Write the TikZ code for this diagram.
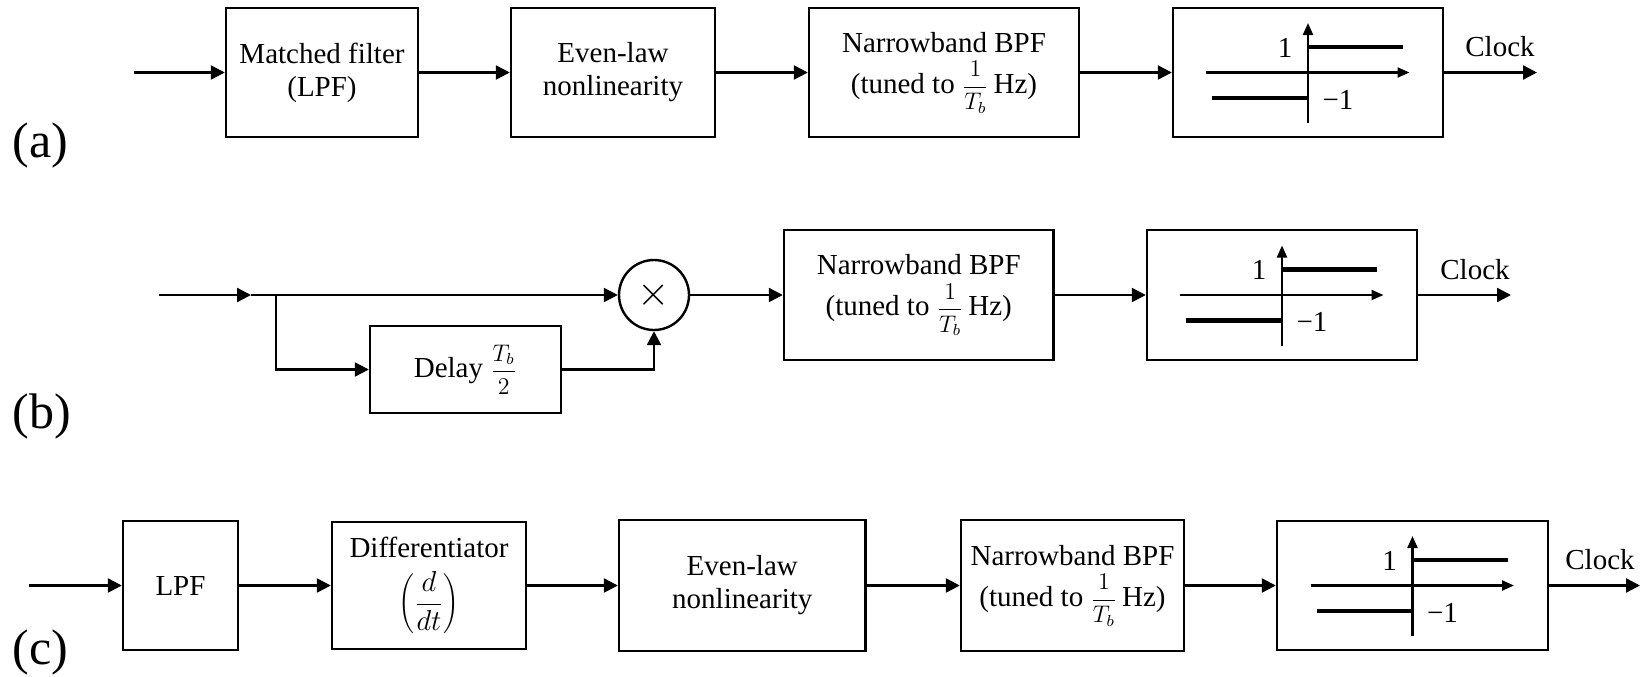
\documentclass[tikz,border=0pt]{standalone}
\usepackage{fontspec}
\setmainfont{Liberation Serif}
\usetikzlibrary{arrows.meta}
\newcommand\invTb{{\fontsize{11.5}{11.5}\selectfont$\displaystyle\frac{1}{T_b}$}}
\newcommand\halfTb{{\fontsize{11.5}{11.5}\selectfont$\displaystyle\frac{T_b}{2}$}}
\newcommand\signumplot[1]{%
  \draw[axisline] ([shift={(0,50.5)}]#1.center) -- ([shift={(0,-49.5)}]#1.center);
  \draw[axisline] ([shift={(-102,0)}]#1.center) -- ([shift={(101.5,0)}]#1.center);
  \draw[stepline] ([shift={(0,-25.5)}]#1.center) -- ([shift={(95,-25.5)}]#1.center);
  \draw[stepline] ([shift={(-96,25.5)}]#1.center) -- ([shift={(0,25.5)}]#1.center);
  \node[txt] at ([shift={(-23,-25)}]#1.center) {1};
  \node[txt] at ([shift={(30,27)}]#1.center) {−1};
}
\begin{document}
\begin{tikzpicture}[x=0.5pt,y=-0.5pt,
  txt/.style={font=\fontsize{14.5}{16.5}\selectfont, inner sep=0pt},
  box/.style={draw, line width=1.2pt, inner sep=0pt, align=center, font=\fontsize{14.5}{16.5}\selectfont},
  arr/.style={line width=1.2pt, -{Triangle[length=7pt,width=7pt]}},
  axisline/.style={line width=1.1pt, -{Triangle[length=6pt,width=5pt]}},
  stepline/.style={line width=2.3pt},
  panel/.style={font=\fontsize{25}{25}\selectfont, inner sep=0pt, anchor=west}]
\useasboundingbox (0,0) rectangle (1651,676);

% ---------------- (a)
\coordinate (ain) at (134,72.5);
\node[box, minimum width=96pt, minimum height=64.5pt] (a1) at (322,72.5) {Matched filter\\(LPF)};
\node[box, minimum width=102pt, minimum height=64.5pt] (a2) at (613,72.5) {Even-law\\nonlinearity};
\node[box, minimum width=135pt, minimum height=64.5pt] (a3) at (944,72.5) {Narrowband BPF\\[4pt](tuned to \invTb\,Hz)};
\node[box, minimum width=135pt, minimum height=64.5pt] (a4) at (1308,72.5) {};
\coordinate (aout) at (1537,72.5);
\node[txt] (aclk) at (1500,47) {Clock};
\node[panel] (alab) at (12,145) {(a)};
\draw[arr] (ain) -- (a1.west);
\draw[arr] (a1.east) -- (a2.west);
\draw[arr] (a2.east) -- (a3.west);
\draw[arr] (a3.east) -- (a4.west);
\draw[arr] (a4.east) -- (aout);
\signumplot{a4}

% ---------------- (b)
\coordinate (bin) at (159,295);
\coordinate (bmid) at (251,295);
\coordinate (bbr) at (276,295);
\node[box, minimum width=95.5pt, minimum height=43.5pt] (b1) at (465.5,369.5) {Delay \halfTb};
\node[draw, circle, line width=1.2pt, minimum size=35pt, inner sep=0pt,
      font=\fontsize{20}{20}\selectfont] (b2) at (654,295) {$\times$};
\node[box, minimum width=134.75pt, minimum height=65pt] (b3) at (918.75,295) {Narrowband BPF\\[4pt](tuned to \invTb\,Hz)};
\node[box, minimum width=135pt, minimum height=65pt] (b4) at (1282,295) {};
\coordinate (bout) at (1511,295);
\node[txt] (bclk) at (1475,270) {Clock};
\node[panel] (blab) at (12,416) {(b)};
\draw[arr] (bin) -- (bmid);
\draw[arr] (bmid) -- (b2.west);
\draw[arr] (bbr) |- (b1.west);
\draw[arr] (b1.east) -| (b2.south);
\draw[arr] (b2.east) -- (b3.west);
\draw[arr] (b3.east) -- (b4.west);
\draw[arr] (b4.east) -- (bout);
\signumplot{b4}

% ---------------- (c)
\coordinate (cin) at (29,585.5);
\node[box, minimum width=57.5pt, minimum height=64.5pt] (c1) at (180.5,585.5) {LPF};
\node[box, minimum width=97pt, minimum height=63.5pt] (c2) at (429,585.5) {Differentiator\\[6pt]$\displaystyle\left(\frac{d}{dt}\right)$};
\node[box, minimum width=123.3pt, minimum height=65.5pt] (c3) at (742.3,585.5) {Even-law\\nonlinearity};
\node[box, minimum width=111.5pt, minimum height=65.5pt] (c4) at (1072.5,585.5) {Narrowband BPF\\[4pt](tuned to \invTb\,Hz)};
\node[box, minimum width=135.5pt, minimum height=64.5pt] (c5) at (1412.5,585.5) {};
\coordinate (cout) at (1640,585.5);
\node[txt] (cclk) at (1600,560) {Clock};
\node[panel] (clab) at (12,652) {(c)};
\draw[arr] (cin) -- (c1.west);
\draw[arr] (c1.east) -- (c2.west);
\draw[arr] (c2.east) -- (c3.west);
\draw[arr] (c3.east) -- (c4.west);
\draw[arr] (c4.east) -- (c5.west);
\draw[arr] (c5.east) -- (cout);
\signumplot{c5}
\end{tikzpicture}
\end{document}
